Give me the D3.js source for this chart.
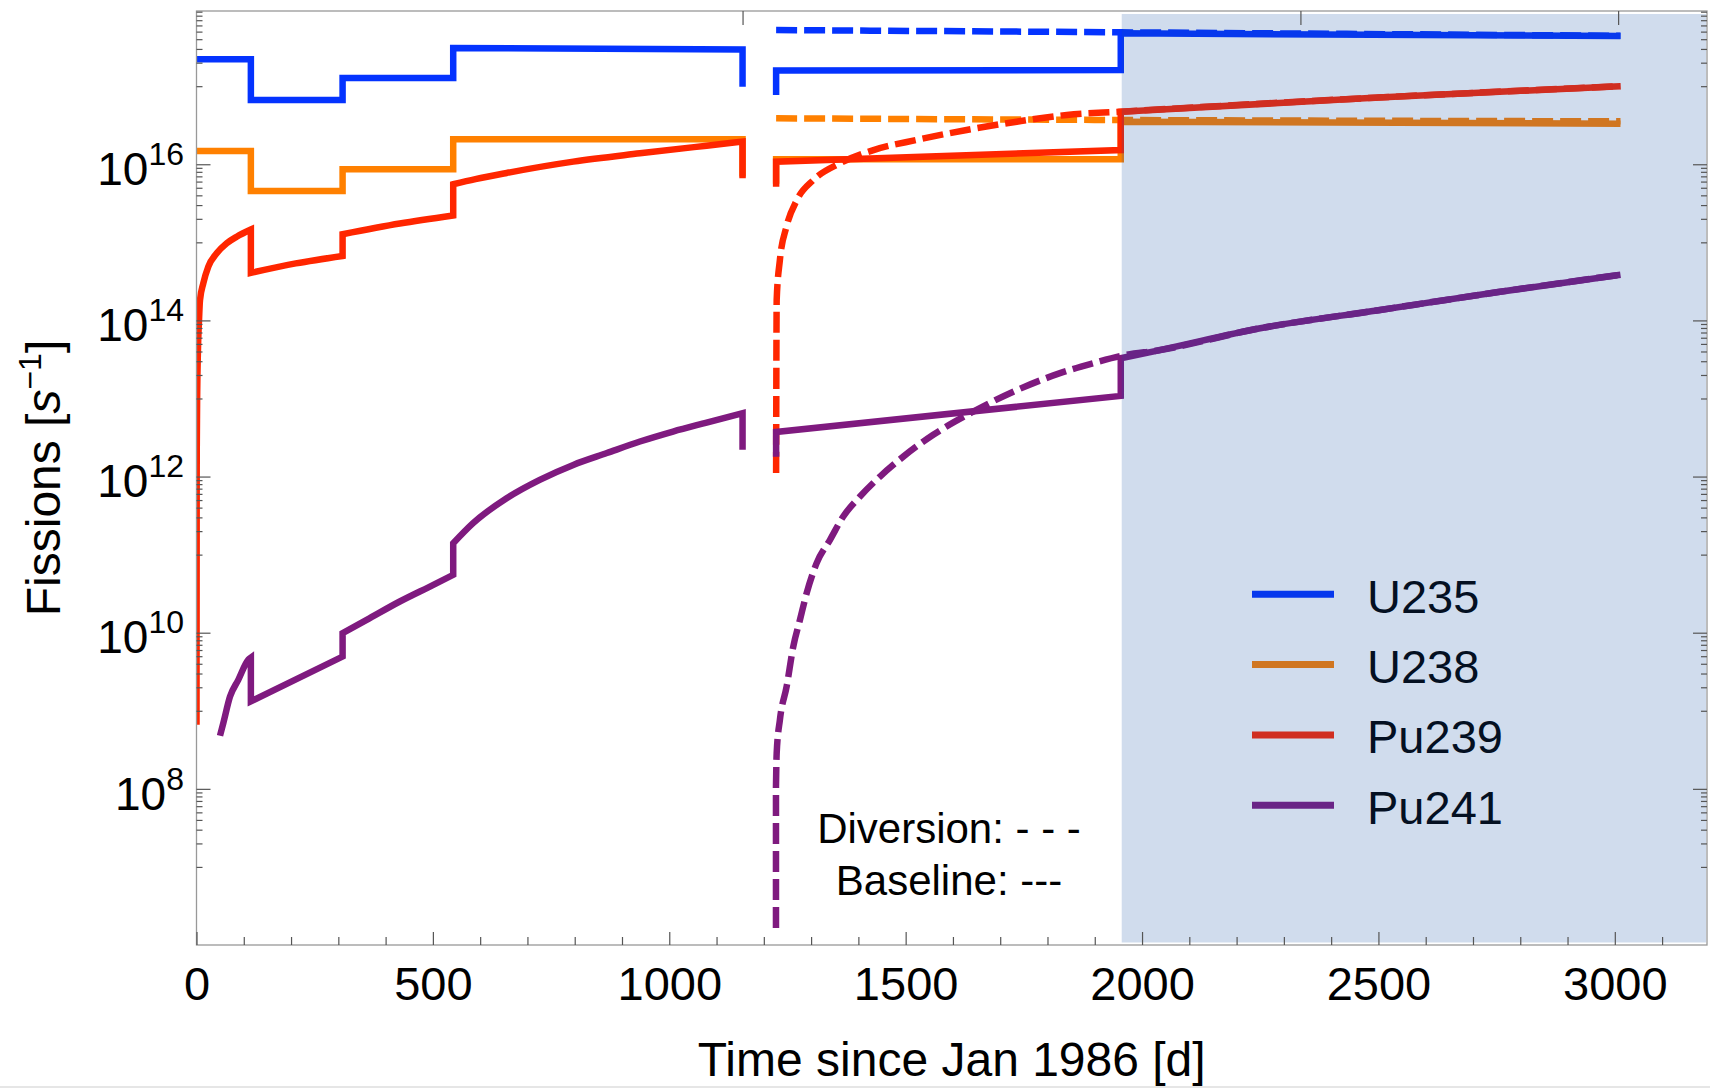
<!DOCTYPE html>
<html>
<head>
<meta charset="utf-8">
<script src="https://cdn.jsdelivr.net/npm/d3@7"></script>
<style>
  body { margin: 0; background: #fff; }
  svg { display: block; font-family: "Liberation Sans", Arial, Helvetica, sans-serif; }
</style>
</head>
<body>
<svg id="chart" width="1710" height="1088"></svg>
<script>
// ── Data (days since Jan 1986, fissions per second) ──────────────
// null = reactor gap between the two cycles
const U235_DAYS = [0, 115, 115, 309, 309, 543, 543, 1155, 1155, 1190, 1226, 1226, 1955, 1955, 3012];
const U235_BASE = [2.21e17, 2.21e17, 6.65e16, 6.65e16, 1.27e17, 1.27e17, 3.08e17, 2.95e17, 9.86e16, null, 7.71e16, 1.585e17, 1.61e17, 4.75e17, 4.40e17];
const U238_BASE = [1.48e16, 1.48e16, 4.55e15, 4.55e15, 8.63e15, 8.63e15, 2.09e16, 2.09e16, 6.98e15, null, 5.62e15, 1.16e16, 1.16e16, 3.51e16, 3.31e16];

const U_DIV_DAYS = [1226, 1955, 3012];
const U235_DIV = [5.24e17, 4.90e17, 4.42e17];
const U238_DIV = [3.88e16, 3.69e16, 3.55e16];

const PU239_DAYS = [0, 0.5, 1.5, 3, 5.3, 7.4, 14.4, 25, 42.7, 63.9, 85, 115, 115, 210, 309, 309, 430, 543, 543, 590, 656, 797, 938, 1079, 1155, 1155, 1190, 1226, 1226, 1955, 1955, 2500, 3012];
const PU239_BASE = [6.6e8, 2e12, 1.2e13, 4e13, 1e14, 1.82e14, 2.99e14, 4.89e14, 7.24e14, 9.73e14, 1.18e15, 1.46e15, 4.06e14, 5.37e14, 6.70e14, 1.27e15, 1.74e15, 2.21e15, 5.55e15, 6.46e15, 7.74e15, 1.08e16, 1.38e16, 1.73e16, 1.95e16, 6.62e15, null, 5.16e15, 1.08e16, 1.52e16, 4.71e16, 7.16e16, 1.0e17];

const PU239_DIV_DAYS = [1226, 1226.8, 1227.2, 1234, 1248, 1270, 1305, 1361, 1432, 1523, 1629, 1735, 1841, 1955, 2500, 3012];
const PU239_DIV = [1.11e12, 7.5e13, 1.83e14, 5.96e14, 1.59e15, 3.49e15, 6.30e15, 1.03e16, 1.52e16, 2.05e16, 2.75e16, 3.51e16, 4.28e16, 4.71e16, 7.16e16, 1.0e17];

const PU241_DAYS = [49.7, 56.7, 70.9, 88.4, 109.6, 115, 115, 309, 309, 360, 430, 501, 543, 543, 585, 656, 726, 797, 868, 938, 1008, 1079, 1155, 1155, 1190, 1226, 1226, 1955, 1955, 2038, 2250, 2500, 2750, 3012];
const PU241_BASE = [4.79e8, 6.95e8, 1.52e9, 2.49e9, 4.50e9, 4.79e9, 1.32e9, 4.95e9, 9.89e9, 1.46e10, 2.51e10, 4.10e10, 5.51e10, 1.40e11, 2.53e11, 5.28e11, 9.08e11, 1.41e12, 2.0e12, 2.81e12, 3.77e12, 4.91e12, 6.49e12, 2.20e12, null, 1.80e12, 3.73e12, 1.08e13, 3.28e13, 4.17e13, 7.94e13, 1.35e14, 2.29e14, 3.85e14];

const PU241_DIV_DAYS = [1225.7, 1225.7, 1227.2, 1234, 1248.3, 1262.3, 1276.4, 1290.6, 1311.7, 1340, 1368, 1403.4, 1445.7, 1495, 1558.4, 1643, 1727.6, 1826.4, 1896.8, 1955, 2038, 2250, 2500, 2750, 3012];
const PU241_DIV = [1.65e6, 1.07e8, 2.87e8, 7.67e8, 2.05e9, 6.65e9, 1.46e10, 3.21e10, 7.78e10, 1.55e11, 3.08e11, 5.55e11, 1.0e12, 1.80e12, 3.43e12, 6.79e12, 1.22e13, 2.11e13, 2.83e13, 3.5e13, 4.17e13, 7.94e13, 1.35e14, 2.29e14, 3.85e14];

const SPECIES = ['U235', 'U238', 'Pu239', 'Pu241'];
const X_MAJOR = [0, 500, 1000, 1500, 2000, 2500, 3000];
const X_MINOR_STEP = 100;
const Y_MAJOR_EXP = [8, 10, 12, 14, 16];
const Y_CLUSTER_EXP = [7, 9, 11, 13, 15, 17];   // decades carrying 1..9 minor ticks
const TOP_TICKS = [1155, 2335, 3007];
const SHADE_START = 1957;
const X_DOMAIN = [0, 3195];
const Y_DOMAIN = [1e6, Math.pow(10, 17.963)];

// ── Styles ───────────────────────────────────────────────────────
const COLORS = { U235: '#0433ff', U238: '#ff8000', Pu239: '#ff2600', Pu241: '#7f1a7f' };
const LINE_W = 6.5;
const DASH = '21,7';

const plot = { left: 196.5, right: 1707, top: 11, bottom: 945 };

const svg = d3.select('#chart');
const x = d3.scaleLinear().domain(X_DOMAIN).range([plot.left, plot.right]);
const y = d3.scaleLog().domain(Y_DOMAIN).range([plot.bottom, plot.top]);

svg.append('defs').append('clipPath').attr('id', 'plot-clip')
  .append('rect')
  .attr('x', plot.left).attr('y', plot.top)
  .attr('width', plot.right - plot.left).attr('height', plot.bottom - plot.top);

const zip = (days, vals) => days.map((d, i) => [d, vals[i]]);

const SERIES = [
  { name: 'U235',  base: zip(U235_DAYS, U235_BASE),   div: zip(U_DIV_DAYS, U235_DIV) },
  { name: 'U238',  base: zip(U235_DAYS, U238_BASE),   div: zip(U_DIV_DAYS, U238_DIV) },
  { name: 'Pu239', base: zip(PU239_DAYS, PU239_BASE), div: zip(PU239_DIV_DAYS, PU239_DIV) },
  { name: 'Pu241', base: zip(PU241_DAYS, PU241_BASE), div: zip(PU241_DIV_DAYS, PU241_DIV) }
];

const smooth = d3.line()
  .x(d => x(d[0]))
  .y(d => y(d[1]))
  .curve(d3.curveMonotoneX);

// smooth between steps, straight vertical jumps at repeated days, break at null
function stepPath(points) {
  let d = '';
  let newSub = true;
  let run = [];
  const flush = () => {
    if (run.length === 1) {
      d += (newSub ? 'M' : 'L') + x(run[0][0]) + ',' + y(run[0][1]);
      newSub = false;
    } else if (run.length > 1) {
      const p = smooth(run);
      d += newSub ? p : 'L' + p.slice(1);
      newSub = false;
    }
    run = [];
  };
  points.forEach(pt => {
    if (pt[1] == null) { flush(); newSub = true; return; }
    if (run.length && pt[0] === run[run.length - 1][0]) flush();
    run.push(pt);
  });
  flush();
  return d;
}

// Curves
const gLines = svg.append('g').attr('clip-path', 'url(#plot-clip)');
SERIES.forEach(s => {
  gLines.append('path')
    .attr('d', stepPath(s.base))
    .attr('fill', 'none').attr('stroke', COLORS[s.name])
    .attr('stroke-width', LINE_W).attr('stroke-linejoin', 'miter').attr('stroke-linecap', 'butt');
  gLines.append('path')
    .attr('d', stepPath(s.div))
    .attr('fill', 'none').attr('stroke', COLORS[s.name])
    .attr('stroke-width', LINE_W).attr('stroke-dasharray', DASH)
    .attr('stroke-linejoin', 'round').attr('stroke-linecap', 'butt');
});

// Legend
const legend = svg.append('g');
SPECIES.forEach((name, i) => {
  const ly = 594.3 + i * 70.3;
  legend.append('line')
    .attr('x1', 1252).attr('x2', 1334).attr('y1', ly).attr('y2', ly)
    .attr('stroke', COLORS[name]).attr('stroke-width', 7);
  legend.append('text')
    .attr('x', 1367).attr('y', ly + 18.4)
    .attr('font-size', 47).attr('fill', '#000')
    .text(name);
});

// Annotation
svg.append('text')
  .attr('x', 949).attr('y', 843).attr('text-anchor', 'middle')
  .attr('font-size', 42).text('Diversion: - - -');
svg.append('text')
  .attr('x', 949).attr('y', 895).attr('text-anchor', 'middle')
  .attr('font-size', 42).text('Baseline: ---');

// Shaded overlay (drawn on top, translucent)
svg.append('rect')
  .attr('x', x(SHADE_START)).attr('y', 14)
  .attr('width', plot.right - 1 - x(SHADE_START)).attr('height', 942.5 - 14)
  .attr('fill', 'rgb(20,80,165)').attr('fill-opacity', 0.2);

// Frame
svg.append('rect')
  .attr('x', plot.left).attr('y', plot.top)
  .attr('width', plot.right - plot.left).attr('height', plot.bottom - plot.top)
  .attr('fill', 'none').attr('stroke', '#999').attr('stroke-width', 1.3);

const tickStroke = ax => ax.selectAll('line').attr('stroke', '#555').attr('stroke-width', 1.2);

// Bottom axis
const xMinor = d3.range(0, X_DOMAIN[1], X_MINOR_STEP).filter(v => !X_MAJOR.includes(v));
svg.append('g').attr('transform', `translate(0,${plot.bottom})`)
  .call(d3.axisBottom(x).tickValues(xMinor).tickSize(-8).tickFormat(''))
  .call(ax => ax.select('.domain').remove())
  .call(tickStroke);
svg.append('g').attr('transform', `translate(0,${plot.bottom})`)
  .call(d3.axisBottom(x).tickValues(X_MAJOR).tickSize(-13).tickFormat(d3.format('d')))
  .call(ax => ax.select('.domain').remove())
  .call(tickStroke)
  .call(ax => ax.selectAll('text')
    .attr('y', 55).attr('dy', null)
    .attr('font-size', 47).attr('fill', '#000')
    .attr('font-family', '"Liberation Sans", Arial, Helvetica, sans-serif'));

// Top special ticks
svg.append('g').attr('transform', `translate(0,${plot.top})`)
  .call(d3.axisTop(x).tickValues(TOP_TICKS).tickSize(-14).tickFormat(''))
  .call(ax => ax.select('.domain').remove())
  .call(tickStroke);

// Y axes (left and mirrored right)
const yMajor = Y_MAJOR_EXP.map(e => Math.pow(10, e));
const yMinor = [];
Y_CLUSTER_EXP.forEach(e => {
  d3.range(1, 10).forEach(k => {
    const v = k * Math.pow(10, e);
    if (v > Y_DOMAIN[0] && v < Y_DOMAIN[1]) yMinor.push(v);
  });
});

[[d3.axisLeft, plot.left], [d3.axisRight, plot.right]].forEach(([axisFn, px]) => {
  svg.append('g').attr('transform', `translate(${px},0)`)
    .call(axisFn(y).tickValues(yMinor).tickSize(-6).tickFormat(''))
    .call(ax => ax.select('.domain').remove())
    .call(tickStroke);
  svg.append('g').attr('transform', `translate(${px},0)`)
    .call(axisFn(y).tickValues(yMajor).tickSize(-14).tickFormat(''))
    .call(ax => ax.select('.domain').remove())
    .call(tickStroke);
});

// Y tick labels: 10^n
const yLabels = svg.append('g');
Y_MAJOR_EXP.forEach(e => {
  const ty = y(Math.pow(10, e));
  const t = yLabels.append('text')
    .attr('x', 184).attr('y', ty + 20.7)
    .attr('text-anchor', 'end').attr('font-size', 46).attr('fill', '#000');
  t.append('tspan').text('10');
  t.append('tspan').attr('dy', -20).attr('font-size', 32).text(e);
});

// Axis titles
svg.append('text')
  .attr('x', (plot.left + plot.right) / 2).attr('y', 1076)
  .attr('text-anchor', 'middle').attr('font-size', 48).attr('fill', '#000')
  .text('Time since Jan 1986 [d]');

const yTitle = svg.append('text')
  .attr('transform', `translate(60,${(plot.top + plot.bottom) / 2}) rotate(-90)`)
  .attr('text-anchor', 'middle').attr('font-size', 48).attr('fill', '#000');
yTitle.append('tspan').text('Fissions [');
yTitle.append('tspan').attr('font-style', 'italic').text('s');
yTitle.append('tspan').attr('dy', -19).attr('font-size', 32).text('\u22121');
yTitle.append('tspan').attr('dy', 19).text(']');

// light strip at the very bottom of the picture
svg.append('rect').attr('x', 0).attr('y', 1086).attr('width', 1710).attr('height', 2).attr('fill', '#e6e6e6');
</script>
</body>
</html>
